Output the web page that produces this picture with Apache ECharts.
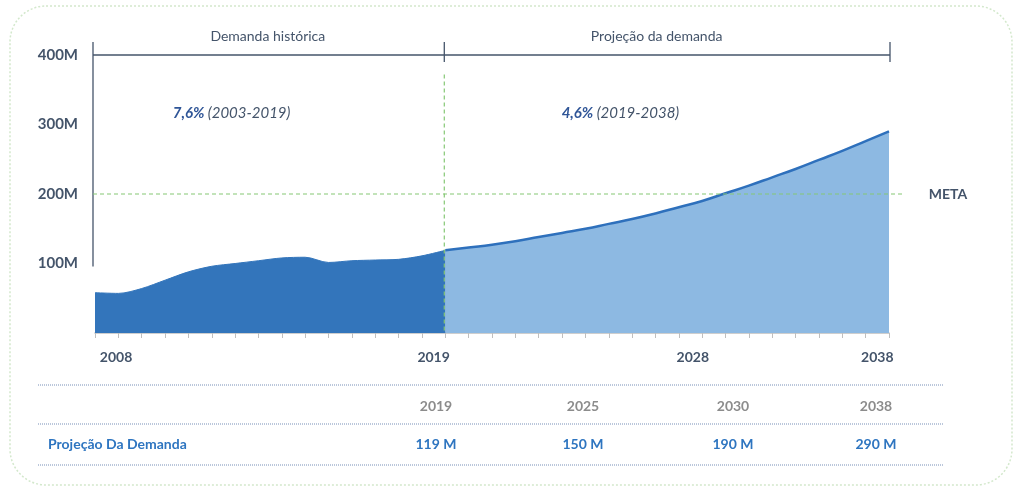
<!DOCTYPE html>
<html>
<head>
<meta charset="utf-8">
<script src="https://cdn.jsdelivr.net/npm/echarts@6/dist/echarts.min.js"></script>
<style>
  html, body { margin: 0; padding: 0; background: #fff; }
  #chart { width: 1016px; height: 488px; }
</style>
</head>
<body>
<div id="chart"></div>
<script>
// Historical demand (millions)
const histYears  = [2004, 2005, 2006, 2007, 2008, 2009, 2010, 2011, 2012, 2013, 2014, 2015, 2016, 2017, 2018, 2019];
const histValues = [58, 57, 64, 76, 88, 96, 100, 104, 108, 109, 101.5, 104, 105, 106, 111, 119];

// Projected demand (millions)
const projYears  = [2019, 2020, 2021, 2022, 2023, 2024, 2025, 2026, 2027, 2028, 2029, 2030, 2031, 2032, 2033, 2034, 2035, 2036, 2037, 2038];
const projValues = [119, 123, 127, 132, 138, 144, 150, 157, 164, 172, 181, 190, 201, 212, 224, 236, 249, 262, 276, 290];

// Target line
const metaValue = 200;

// Axis labels
const yTickValues = [100, 200, 300, 400];
const xLabelTexts = ['2008', '2019', '2028', '2038'];
const xLabelAt    = [2004.9, 2018.5, 2029.6, 2037.5];

// Summary table
const tableYears  = [2019, 2025, 2030, 2038];
const tableLabel  = 'Projeção Da Demanda';

// Period annotations
const periods = [
  { title: 'Demanda histórica', rate: '7,6%', range: '(2003-2019)', from: 2004, to: 2019, titleAt: 2011.4, rateAt: 2009.85 },
  { title: 'Projeção da demanda', rate: '4,6%', range: '(2019-2038)', from: 2019, to: 2038, titleAt: 2028.05, rateAt: 2026.5 }
];

const FONT = 'Lato, "Open Sans", sans-serif';
const SLATE = '#44546A';
const GREEN = '#86C875';

const chart = echarts.init(document.getElementById('chart'), null, { renderer: 'canvas' });

const pair = (xs, ys) => xs.map((x, i) => [x, ys[i]]);

chart.setOption({
  animation: false,
  grid: { left: 95, right: 127, top: 55, bottom: 155, containLabel: false },
  xAxis: {
    type: 'value', min: 2004, max: 2038, interval: 1,
    axisLine: { show: true, lineStyle: { color: '#BFBFBF', width: 1.5 } },
    axisTick: { show: true, length: 5, lineStyle: { color: '#BFBFBF', width: 1 } },
    splitLine: { show: false },
    axisLabel: {
      customValues: xLabelAt,
      margin: 17,
      color: SLATE, fontFamily: FONT, fontWeight: 'bold', fontSize: 14,
      formatter: (v) => {
        const i = xLabelAt.indexOf(v);
        return i >= 0 ? xLabelTexts[i] : '';
      }
    }
  },
  yAxis: {
    type: 'value', min: 0, max: 400, interval: 100,
    axisLine: { show: false }, axisTick: { show: false }, splitLine: { show: false },
    axisLabel: {
      margin: 17,
      color: SLATE, fontFamily: FONT, fontWeight: 'bold', fontSize: 15,
      formatter: (v) => yTickValues.includes(v) ? v + 'M' : ''
    }
  },
  series: [
    {
      name: 'Demanda histórica', type: 'line',
      data: pair(histYears, histValues),
      smooth: 0.3, symbol: 'none',
      lineStyle: { color: '#3375BB', width: 1 },
      areaStyle: { color: '#3375BB', opacity: 1 },
      z: 3
    },
    {
      name: 'Projeção da demanda', type: 'line',
      data: pair(projYears, projValues),
      smooth: true, symbol: 'none',
      lineStyle: { color: '#2E70BC', width: 2.5 },
      areaStyle: { color: '#8DB9E2', opacity: 1 },
      z: 2
    }
  ]
});

// Annotations anchored to the axes
const px = (x, y) => chart.convertToPixel({ gridIndex: 0 }, [x, y]);
const [xStart, yTop] = px(2004, 400);
const [x2019] = px(2019, 0);
const [x2038, yZero] = px(2038, 0);
const [, yMeta] = px(2004, metaValue);
const [, y100] = px(2004, 100);
const [, y380] = px(2004, 375);
const [, yRate] = px(2004, 316);

const bracketStyle = { stroke: SLATE, lineWidth: 1.3 };
const g = [];

// Period bracket
g.push({ type: 'line', shape: { x1: xStart - 2, y1: yTop, x2: x2038 + 1, y2: yTop }, style: bracketStyle });
g.push({ type: 'line', shape: { x1: xStart - 2, y1: yTop - 13, x2: xStart - 2, y2: y100 + 3 }, style: bracketStyle });
g.push({ type: 'line', shape: { x1: x2019 - 1, y1: yTop - 13, x2: x2019 - 1, y2: yTop + 7 }, style: bracketStyle });
g.push({ type: 'line', shape: { x1: x2038 + 1, y1: yTop - 13, x2: x2038 + 1, y2: yTop + 7 }, style: bracketStyle });

periods.forEach((p) => {
  g.push({
    type: 'text', x: px(p.titleAt, 0)[0], y: yTop - 19,
    style: { text: p.title, fill: SLATE, font: '14px ' + FONT, align: 'center', verticalAlign: 'middle' }
  });
  g.push({
    type: 'text', x: px(p.rateAt, 0)[0], y: yRate,
    style: {
      text: '{r|' + p.rate + '} {d|' + p.range + '}',
      align: 'center', verticalAlign: 'middle',
      rich: {
        r: { fill: '#2F5597', font: 'italic bold 15px ' + FONT },
        d: { fill: SLATE, font: 'italic 15px ' + FONT }
      }
    }
  });
});

// Target (META) and period divider
g.push({ type: 'line', shape: { x1: xStart - 2, y1: yMeta, x2: x2038 + 16, y2: yMeta },
  style: { stroke: GREEN, lineWidth: 1.2, lineDash: [4, 3] }, z: 10 });
g.push({ type: 'line', shape: { x1: x2019 - 1, y1: y380 + 2, x2: x2019 - 1, y2: yZero },
  style: { stroke: GREEN, lineWidth: 1.2, lineDash: [4, 3] }, z: 10 });
g.push({ type: 'text', x: x2038 + 59, y: yMeta,
  style: { text: 'META', fill: SLATE, font: 'bold 14px ' + FONT, align: 'center', verticalAlign: 'middle' } });

// Summary table
const tableX = [436, 583, 733, 876];
const rules = [385, 424, 465];
rules.forEach((ry) => {
  g.push({ type: 'line', shape: { x1: 38, y1: ry, x2: 943, y2: ry },
    style: { stroke: '#8FA3C4', lineWidth: 1.2, lineDash: [1, 1] } });
});
tableYears.forEach((yr, i) => {
  const v = projValues[projYears.indexOf(yr)];
  g.push({ type: 'text', x: tableX[i], y: 406,
    style: { text: String(yr), fill: '#8C8C8C', font: 'bold 14px ' + FONT, align: 'center', verticalAlign: 'middle' } });
  g.push({ type: 'text', x: tableX[i], y: 444,
    style: { text: v + ' M', fill: '#2E75C0', font: 'bold 14px ' + FONT, align: 'center', verticalAlign: 'middle' } });
});
g.push({ type: 'text', x: 48, y: 444,
  style: { text: tableLabel, fill: '#2E75C0', font: 'bold 14px ' + FONT, align: 'left', verticalAlign: 'middle' } });

// Outer frame
g.push({ type: 'rect', shape: { x: 10, y: 6, width: 1002, height: 479, r: 36 },
  style: { fill: 'none', stroke: '#D3E8CC', lineWidth: 1.5, lineDash: [2, 2] }, z: -1 });

chart.setOption({ graphic: g });
</script>
</body>
</html>
